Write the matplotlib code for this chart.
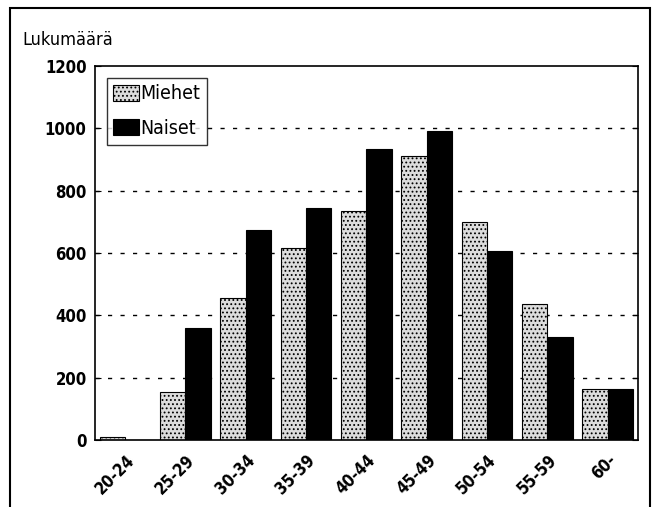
import matplotlib
matplotlib.use("Agg")
import matplotlib.pyplot as plt
import numpy as np
from matplotlib.patches import Rectangle

plt.rcParams['font.family'] = ['DejaVu Sans']
plt.rcParams['font.stretch'] = 'condensed'
plt.rcParams['hatch.color'] = '#8a8a8a'
plt.rcParams['hatch.linewidth'] = 0.8

ages = ["20-24", "25-29", "30-34", "35-39", "40-44", "45-49", "50-54", "55-59", "60-"]
miehet = [10, 155, 455, 615, 735, 910, 700, 435, 165]
naiset = [0, 360, 675, 745, 935, 990, 605, 330, 165]

fig = plt.figure(figsize=(6.52, 5.07), dpi=100)
ax = fig.add_axes([0.1457, 0.1321, 0.8328, 0.7377])

x = np.arange(len(ages))
w = 0.42
ax.bar(x - w / 2, miehet, w, color="#dcdcdc", edgecolor="black", linewidth=0.8,
       hatch="....", label="Miehet")
ax.bar(x + w / 2, naiset, w, color="black", edgecolor="black", linewidth=0.8,
       label="Naiset")

ax.set_xlim(-0.5, len(ages) - 0.5)
ax.set_ylim(0, 1200)
ax.set_yticks(np.arange(0, 1201, 200))
ax.set_yticklabels([str(v) for v in range(0, 1201, 200)], fontsize=12, fontweight="bold")
for y in range(200, 1200, 200):
    ax.axhline(y, color="black", linestyle=(0, (3, 6)), linewidth=1.0, zorder=0)

ax.set_xticks(x)
ax.set_xticklabels(ages, rotation=45, ha="right", rotation_mode="anchor",
                   fontsize=12, fontweight="bold")
ax.tick_params(axis="y", direction="in", length=4, right=True, left=True, pad=6)
ax.tick_params(axis="x", length=0, pad=8)
for s in ax.spines.values():
    s.set_linewidth(1.2)

leg = ax.legend(loc="upper left", fontsize=14, frameon=True, fancybox=False,
                edgecolor="black", handlelength=1.3, handleheight=0.9,
                handletextpad=0.1, borderpad=0.35, labelspacing=0.8,
                borderaxespad=0.6)
leg.get_frame().set_linewidth(1.0)

fig.text(22 / 652, 1 - 40 / 507, "Lukumäärä", fontsize=13, va="center", ha="left")

# outer frame
fig.patches.append(Rectangle((10 / 652, -0.02), 640 / 652, 1 - 8 / 507 + 0.02,
                             transform=fig.transFigure, fill=False,
                             edgecolor="black", linewidth=1.5))

fig.savefig("out.png", dpi=100)
